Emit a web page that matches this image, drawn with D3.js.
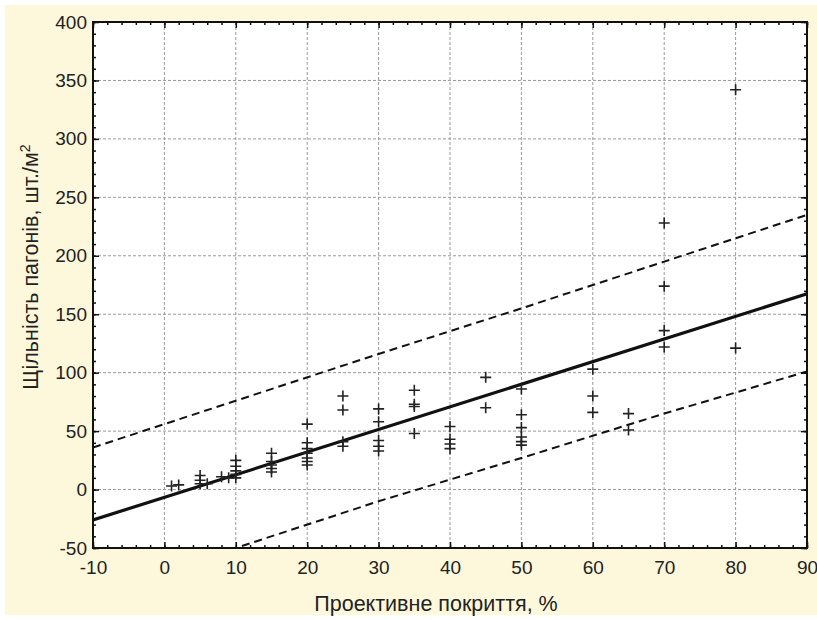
<!DOCTYPE html>
<html>
<head>
<meta charset="utf-8">
<script src="https://cdn.jsdelivr.net/npm/d3@7"></script>
<style>
  body { margin: 0; background: #fff; }
  text { font-family: "Liberation Sans", Arial, sans-serif; fill: #222; }
</style>
</head>
<body>
<div id="chart"></div>
<script>
// Щільність пагонів vs проективне покриття: точки, лінія регресії та межі прогнозу
const coverX = [1, 2, 5, 5, 5, 6, 8, 9, 10, 10, 10, 10, 10,
  15, 15, 15, 15, 15, 20, 20, 20, 20, 20, 20, 20,
  25, 25, 25, 25, 30, 30, 30, 30, 30, 35, 35, 35, 35,
  40, 40, 40, 40, 45, 45, 50, 50, 50, 50, 50, 50,
  60, 60, 60, 65, 65, 70, 70, 70, 70, 80, 80];
const density = [3, 4, 12, 8, 5, 5, 11, 10, 25, 20, 16, 13, 10,
  31, 24, 21, 18, 15, 56, 40, 35, 31, 27, 24, 21,
  80, 68, 41, 37, 69, 58, 42, 37, 33, 85, 73, 71, 48,
  54, 43, 39, 35, 96, 70, 86, 64, 53, 45, 41, 38,
  103, 80, 66, 65, 51, 228, 174, 136, 122, 342, 121];

// лінія регресії та межі
const fitX = [-10, 90];
const fitY = [-26, 167.5];
const bandX = [-10, 10, 30, 50, 70, 90];
const upperY = [36, 76, 116, 155, 195, 235];
const lowerY = [-88, -50, -10, 27, 65, 101];

const xTicks = [-10, 0, 10, 20, 30, 40, 50, 60, 70, 80, 90];
const yTicks = [-50, 0, 50, 100, 150, 200, 250, 300, 350, 400];

const W = 817, H = 620;
const m = { left: 93, right: 10, top: 22, bottom: 72 };

const svg = d3.select("#chart").append("svg").attr("width", W).attr("height", H);
svg.append("rect").attr("x", 5).attr("y", 5).attr("width", W - 5).attr("height", 610).attr("fill", "#fdf8dc");

const x = d3.scaleLinear().domain([-10, 90]).range([m.left, W - m.right]);
const y = d3.scaleLinear().domain([-50, 400]).range([H - m.bottom, m.top]);
const iw = x.range()[1] - x.range()[0], ih = y.range()[0] - y.range()[1];

svg.append("rect").attr("x", m.left).attr("y", m.top).attr("width", iw).attr("height", ih).attr("fill", "#fff");
svg.append("clipPath").attr("id", "clip").append("rect")
  .attr("x", m.left).attr("y", m.top).attr("width", iw).attr("height", ih);

// сітка
const grid = svg.append("g").attr("stroke", "#9a9a9a").attr("stroke-dasharray", "3,2").attr("stroke-width", 1);
grid.selectAll(".gx").data(xTicks.slice(1, -1)).join("line")
  .attr("x1", d => x(d)).attr("x2", d => x(d)).attr("y1", m.top).attr("y2", m.top + ih);
grid.selectAll(".gy").data(yTicks.slice(1, -1)).join("line")
  .attr("y1", d => y(d)).attr("y2", d => y(d)).attr("x1", m.left).attr("x2", m.left + iw);

// лінії
const plot = svg.append("g").attr("clip-path", "url(#clip)");
const line = d3.line().x(d => x(d[0])).y(d => y(d[1]));
plot.append("path").attr("d", line(bandX.map((v, i) => [v, upperY[i]])))
  .attr("fill", "none").attr("stroke", "#111").attr("stroke-width", 2).attr("stroke-dasharray", "8,5");
plot.append("path").attr("d", line(bandX.map((v, i) => [v, lowerY[i]])))
  .attr("fill", "none").attr("stroke", "#111").attr("stroke-width", 2).attr("stroke-dasharray", "8,5");
plot.append("path").attr("d", line(fitX.map((v, i) => [v, fitY[i]])))
  .attr("fill", "none").attr("stroke", "#111").attr("stroke-width", 3.2);

// точки "+"
const s = 5.5;
plot.selectAll(".pt").data(coverX.map((v, i) => [v, density[i]])).join("path")
  .attr("d", d => `M${x(d[0]) - s},${y(d[1])}H${x(d[0]) + s}M${x(d[0])},${y(d[1]) - s}V${y(d[1]) + s}`)
  .attr("stroke", "#222").attr("stroke-width", 1.6).attr("fill", "none");

// осі
const fmt = d => String(d); // звичайний дефіс замість U+2212
function styleAxis(g) {
  g.select(".domain").remove();
  g.selectAll(".tick line").attr("stroke", "#111").attr("stroke-width", 1.5);
  g.selectAll("text").attr("font-size", 19).attr("fill", "#222")
    .attr("font-family", "'Liberation Sans', Arial, sans-serif");
}
const bottom = m.top + ih;
svg.append("g").attr("transform", `translate(0,${bottom})`)
  .call(d3.axisBottom(x).tickValues(xTicks).tickFormat(fmt).tickSize(-6).tickPadding(13)).call(styleAxis);
svg.append("g").attr("transform", `translate(0,${bottom})`)
  .call(d3.axisBottom(x).tickValues(d3.range(-10, 91, 2)).tickSize(-3).tickFormat("")).call(styleAxis);
svg.append("g").attr("transform", `translate(0,${m.top})`)
  .call(d3.axisTop(x).tickValues(xTicks).tickSize(-6).tickFormat("")).call(styleAxis);
svg.append("g").attr("transform", `translate(0,${m.top})`)
  .call(d3.axisTop(x).tickValues(d3.range(-10, 91, 2)).tickSize(-3).tickFormat("")).call(styleAxis);
svg.append("g").attr("transform", `translate(${m.left},0)`)
  .call(d3.axisLeft(y).tickValues(yTicks).tickFormat(fmt).tickSize(-6).tickPadding(6)).call(styleAxis);
svg.append("g").attr("transform", `translate(${m.left},0)`)
  .call(d3.axisLeft(y).tickValues(d3.range(-50, 401, 10)).tickSize(-3).tickFormat("")).call(styleAxis);
svg.append("g").attr("transform", `translate(${m.left + iw},0)`)
  .call(d3.axisRight(y).tickValues(yTicks).tickSize(-6).tickFormat("")).call(styleAxis);
svg.append("g").attr("transform", `translate(${m.left + iw},0)`)
  .call(d3.axisRight(y).tickValues(d3.range(-50, 401, 10)).tickSize(-3).tickFormat("")).call(styleAxis);

svg.append("rect").attr("x", m.left).attr("y", m.top).attr("width", iw).attr("height", ih)
  .attr("fill", "none").attr("stroke", "#111").attr("stroke-width", 2);

// підписи осей
svg.append("text").attr("x", 436).attr("y", 611).attr("text-anchor", "middle")
  .attr("font-size", 21.5).text("Проективне покриття, %");
const yl = svg.append("text").attr("transform", "translate(38,267) rotate(-90)")
  .attr("text-anchor", "middle").attr("font-size", 21.5);
yl.append("tspan").text("Щільність пагонів, шт./м");
yl.append("tspan").attr("dy", -8).attr("font-size", 14).text("2");
</script>
</body>
</html>
